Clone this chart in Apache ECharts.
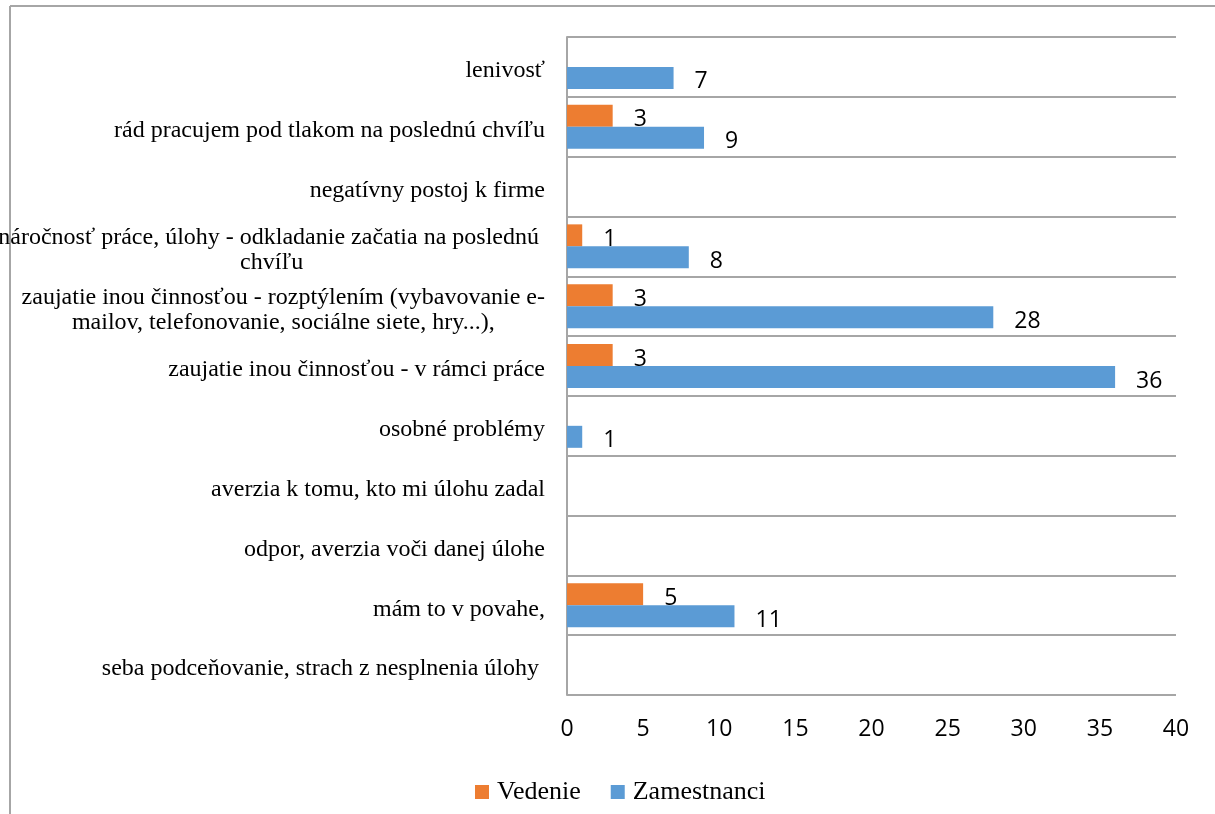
<!DOCTYPE html>
<html>
<head>
<meta charset="utf-8">
<script src="https://cdn.jsdelivr.net/npm/echarts@6/dist/echarts.min.js"></script>
<style>html,body{margin:0;padding:0;background:#fff}#c{width:1215px;height:814px}</style>
</head>
<body>
<div id="c"></div>
<script>
var categories = [
  "lenivosť",
  "rád pracujem pod tlakom na poslednú chvíľu",
  "negatívny postoj k firme",
  "náročnosť práce, úlohy - odkladanie začatia na poslednú \nchvíľu",
  "zaujatie inou činnosťou - rozptýlením (vybavovanie e-\nmailov, telefonovanie, sociálne siete, hry...),",
  "zaujatie inou činnosťou - v rámci práce",
  "osobné problémy",
  "averzia k tomu, kto mi úlohu zadal",
  "odpor, averzia voči danej úlohe",
  "mám to v povahe,",
  "seba podceňovanie, strach z nesplnenia úlohy "
];
var vedenie     = [0, 3, 0, 1, 3, 3, 0, 0, 0, 5, 0];
var zamestnanci = [7, 9, 0, 8, 28, 36, 1, 0, 0, 11, 0];
var seriesNames = ["Vedenie", "Zamestnanci"];
var xTicks = { min: 0, max: 40, interval: 5 };

var chart = echarts.init(document.getElementById('c'));
var labelStyle = {
  show: true,
  position: 'right',
  distance: 21,
  offset: [0, 4],
  fontFamily: 'Open Sans',
  fontSize: 23,
  color: '#000',
  formatter: function (p) { return p.value ? String(p.value) : ''; }
};
chart.setOption({
  animation: false,
  backgroundColor: '#fff',
  graphic: [
    { type: 'line', shape: { x1: 10, y1: 6, x2: 1215, y2: 6 }, style: { stroke: '#a6a6a6', lineWidth: 2 } },
    { type: 'line', shape: { x1: 10, y1: 6, x2: 10, y2: 814 }, style: { stroke: '#a6a6a6', lineWidth: 2 } }
  ],
  grid: { left: 567, right: 39, top: 37, bottom: 119, containLabel: false, outerBoundsMode: 'none' },
  legend: {
    left: 470, top: 774,
    itemWidth: 14, itemHeight: 14, itemGap: 30,
    icon: 'rect',
    textStyle: { fontFamily: 'Liberation Serif', fontSize: 26, color: '#000', padding: [2, 0, 0, 3] },
    data: seriesNames
  },
  xAxis: {
    type: 'value', min: xTicks.min, max: xTicks.max, interval: xTicks.interval,
    axisLine: { show: false }, axisTick: { show: false }, splitLine: { show: false },
    axisLabel: { fontFamily: 'Open Sans', fontSize: 23, color: '#000', margin: 23 }
  },
  yAxis: {
    type: 'category', inverse: true, data: categories,
    axisLine: { show: true, lineStyle: { color: '#a6a6a6', width: 2 } },
    axisTick: { show: false },
    splitLine: { show: true, lineStyle: { color: '#a6a6a6', width: 2 } },
    axisLabel: {
      interval: 0, margin: 22, color: '#000',
      fontFamily: 'Liberation Serif', fontSize: 24,
      padding: [8, 0, 0, 0],
      formatter: function (v) {
        return v.split('\n').map(function (l) { return '{c|' + l + '}'; }).join('\n');
      },
      rich: { c: { align: 'center', fontFamily: 'Liberation Serif', fontSize: 24, lineHeight: 25, color: '#000' } }
    }
  },
  series: [
    { name: seriesNames[0], type: 'bar', data: vedenie, barWidth: 22, barGap: '0%',
      itemStyle: { color: '#ED7D31' }, label: labelStyle },
    { name: seriesNames[1], type: 'bar', data: zamestnanci, barWidth: 22, barGap: '0%',
      itemStyle: { color: '#5B9BD5' }, label: labelStyle }
  ]
});
</script>
</body>
</html>
